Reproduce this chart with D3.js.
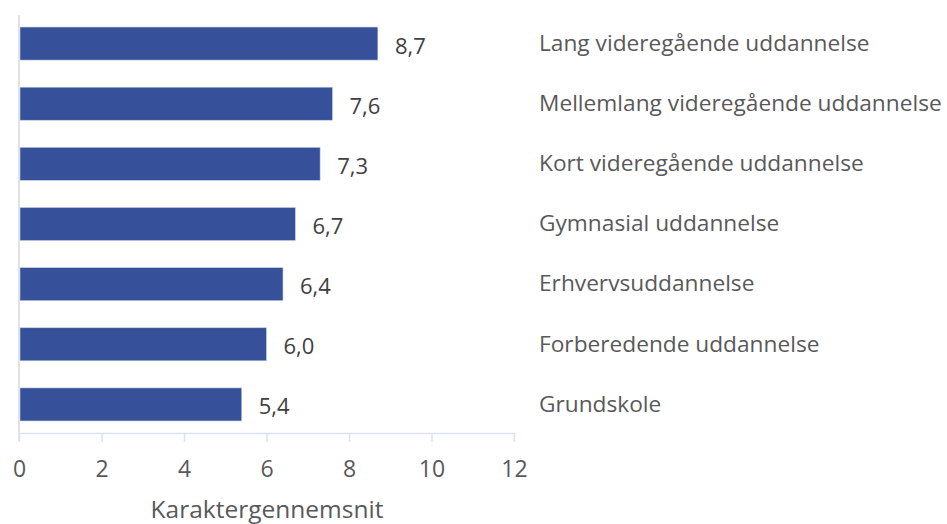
<!DOCTYPE html>
<html><head><meta charset="utf-8">
<script src="https://cdn.jsdelivr.net/npm/d3@7/dist/d3.min.js"></script>
<style>body{margin:0;background:#fff;} svg{display:block;font-family:"Open Sans","Noto Sans",sans-serif;}</style>
</head><body>
<svg id="c" width="947" height="524"></svg>
<script>
const categories = ["Lang videregående uddannelse","Mellemlang videregående uddannelse","Kort videregående uddannelse","Gymnasial uddannelse","Erhvervsuddannelse","Forberedende uddannelse","Grundskole"];
const values = [8.7,7.6,7.3,6.7,6.4,6.0,5.4];
const valueLabels = ["8,7","7,6","7,3","6,7","6,4","6,0","5,4"];
const xTicks = [0,2,4,6,8,10,12];
const axisTitle = "Karaktergennemsnit";

const svg = d3.select("#c");
const x = d3.scaleLinear().domain([0,12]).range([19,514]);
const y = d3.scaleBand().domain(categories).range([15,433]).paddingInner(0.45).paddingOuter(0.2);

// left axis line
svg.append("line").attr("x1",19).attr("x2",19).attr("y1",15).attr("y2",441)
  .attr("stroke","#d9d9d9").attr("stroke-width",1.5);

// bottom axis
const ax = svg.append("g").attr("transform","translate(0,433)")
  .call(d3.axisBottom(x).tickValues(xTicks).tickSize(9).tickSizeOuter(0).tickFormat(d=>String(d)));
ax.select(".domain").attr("stroke","#dbe1ef").attr("stroke-width",1.5);
ax.selectAll(".tick line").attr("stroke","#dbe1ef").attr("stroke-width",1.5);
ax.selectAll(".tick text").attr("y",37).attr("dy","0.32em").attr("font-size",23).attr("fill","#595959")
  .attr("font-family","'Open Sans','Noto Sans',sans-serif");

// bars
svg.selectAll("rect.bar").data(categories).enter().append("rect").attr("class","bar")
  .attr("x",x(0)+1).attr("y",d=>y(d)).attr("height",y.bandwidth())
  .attr("width",(d,i)=>x(values[i])-x(0)-1)
  .attr("fill","#36519a").attr("stroke","#c9d3ea").attr("stroke-width",0.6);

// value labels
svg.selectAll("text.val").data(categories).enter().append("text").attr("class","val")
  .attr("x",(d,i)=>x(values[i])+17).attr("y",d=>y(d)+y.bandwidth()/2+3)
  .attr("dy","0.32em").attr("font-size",22).attr("fill","#404040")
  .text((d,i)=>valueLabels[i]);

// category labels
const cl = svg.selectAll("text.cat").data(categories).enter().append("text").attr("class","cat")
  .attr("x",539).attr("y",d=>y(d)+y.bandwidth()/2).attr("dy","0.32em")
  .attr("font-size",20).attr("fill","#595959").text(d=>d);
// fit longest label width to 403px
let maxW = 0; cl.each(function(){ maxW = Math.max(maxW, this.getComputedTextLength()); });
cl.attr("font-size",20*403/maxW);

// axis title
svg.append("text").attr("x",267).attr("y",510).attr("dy","0.32em").attr("text-anchor","middle")
  .attr("font-size",24.5).attr("fill","#595959").text(axisTitle);
</script>
</body></html>
